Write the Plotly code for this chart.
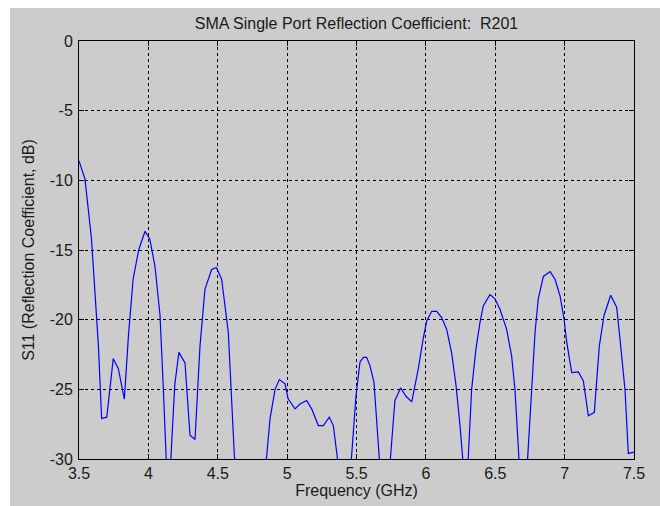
import plotly.graph_objects as go

# Measured S11 of the SMA port, 3.5-7.5 GHz
freq_ghz = [
    3.500, 3.543, 3.590, 3.640, 3.663, 3.700, 3.747, 3.783, 3.827, 3.856,
    3.890, 3.930, 3.976, 4.010, 4.048, 4.084, 4.108, 4.127, 4.145, 4.163,
    4.190, 4.220, 4.264, 4.300, 4.336, 4.372, 4.408, 4.456, 4.490, 4.528,
    4.576, 4.620, 4.740, 4.853, 4.877, 4.913, 4.944, 4.985, 5.008, 5.057,
    5.093, 5.141, 5.177, 5.225, 5.261, 5.304, 5.333, 5.360, 5.410, 5.465,
    5.496, 5.525, 5.549, 5.573, 5.597, 5.626, 5.657, 5.700, 5.746, 5.777,
    5.818, 5.857, 5.898, 5.945, 5.980, 6.006, 6.042, 6.078, 6.114, 6.150,
    6.186, 6.217, 6.246, 6.265, 6.285, 6.306, 6.330, 6.361, 6.390, 6.414,
    6.462, 6.498, 6.534, 6.582, 6.618, 6.642, 6.671, 6.700, 6.734, 6.763,
    6.787, 6.810, 6.847, 6.895, 6.931, 6.967, 6.996, 7.015, 7.051, 7.099,
    7.135, 7.171, 7.214, 7.250, 7.284, 7.332, 7.375, 7.399, 7.435, 7.459,
    7.495, 7.500,
]
s11_db = [
    -8.6, -9.9, -14.2, -21.9, -27.1, -27.0, -22.8, -23.5, -25.7, -21.2,
    -17.1, -15.0, -13.65, -14.2, -16.2, -19.7, -25.0, -29.8, -34.0, -29.8,
    -24.7, -22.35, -23.1, -28.3, -28.6, -21.9, -17.8, -16.4, -16.25, -17.1,
    -20.9, -29.8, -40.0, -29.75, -27.1, -25.0, -24.3, -24.6, -25.7, -26.4,
    -26.05, -25.8, -26.4, -27.6, -27.6, -27.0, -27.6, -29.75, -35.0, -29.75,
    -25.5, -23.05, -22.7, -22.7, -23.3, -24.5, -29.75, -35.0, -29.75, -25.8,
    -24.9, -25.5, -25.9, -23.55, -21.4, -20.1, -19.4, -19.4, -19.85, -20.7,
    -22.4, -24.7, -27.6, -29.9, -34.0, -29.9, -25.0, -22.1, -20.2, -19.0,
    -18.2, -18.5, -19.25, -20.7, -22.6, -25.0, -29.85, -35.0, -29.85, -24.5,
    -20.9, -18.5, -16.9, -16.55, -17.1, -18.3, -19.97, -21.6, -23.8, -23.75,
    -24.4, -26.9, -26.65, -21.9, -19.7, -18.25, -19.1, -21.4, -25.0, -29.6,
    -29.5, -29.5,
]

x_ticks = [3.5, 4, 4.5, 5, 5.5, 6, 6.5, 7, 7.5]
x_tick_labels = ["3.5", "4", "4.5", "5", "5.5", "6", "6.5", "7", "7.5"]
y_ticks = [0, -5, -10, -15, -20, -25, -30]
y_tick_labels = ["0", "-5", "-10", "-15", "-20", "-25", "-30"]

FONT = "Liberation Sans, Arial, Helvetica, sans-serif"
TXT = "#1a1a1a"
GRID = dict(showgrid=True, gridcolor="black", gridwidth=1, griddash="3px,3px")

fig = go.Figure()
fig.add_trace(go.Scatter(
    x=freq_ghz, y=s11_db, mode="lines",
    line=dict(color="#0000ff", width=1.2),
    showlegend=False, hoverinfo="x+y",
))

fig.update_layout(
    width=660, height=506,
    margin=dict(l=79, r=26, t=41, b=47),
    paper_bgcolor="white",
    plot_bgcolor="white",
    font=dict(family=FONT, size=16, color=TXT),
    title=dict(
        text="SMA Single Port Reflection Coefficient: \u00a0R201",
        x=0.5, xref="paper", xanchor="center",
        y=1 - 23 / 506, yref="container", yanchor="middle",
        font=dict(family=FONT, size=16, color=TXT),
    ),
    xaxis=dict(
        range=[3.5, 7.5], tickvals=x_ticks, ticktext=x_tick_labels,
        ticks="inside", ticklen=5, tickcolor="black",
        showline=True, linecolor="black", linewidth=1, mirror="ticks",
        zeroline=False, ticklabelstandoff=0, automargin=False,
        title=dict(text="Frequency (GHz)", standoff=2,
                   font=dict(family=FONT, size=16, color=TXT)),
        **GRID,
    ),
    yaxis=dict(
        range=[-30, 0], tickvals=y_ticks, ticktext=y_tick_labels,
        ticks="inside", ticklen=5, tickcolor="black",
        showline=True, linecolor="black", linewidth=1, mirror="ticks",
        zeroline=False, ticklabelstandoff=2, automargin=False,
        title=dict(text="S11 (Reflection Coefficient, dB)", standoff=11,
                   font=dict(family=FONT, size=16, color=TXT)),
        **GRID,
    ),
    shapes=[dict(
        type="rect", xref="paper", yref="paper",
        x0=(10 - 79) / 555, x1=1.2, y0=-0.3, y1=(458.5 - 8) / 417.5,
        fillcolor="#cccccc", line=dict(width=0), layer="below",
    )],
)

fig.write_html("out.html")
